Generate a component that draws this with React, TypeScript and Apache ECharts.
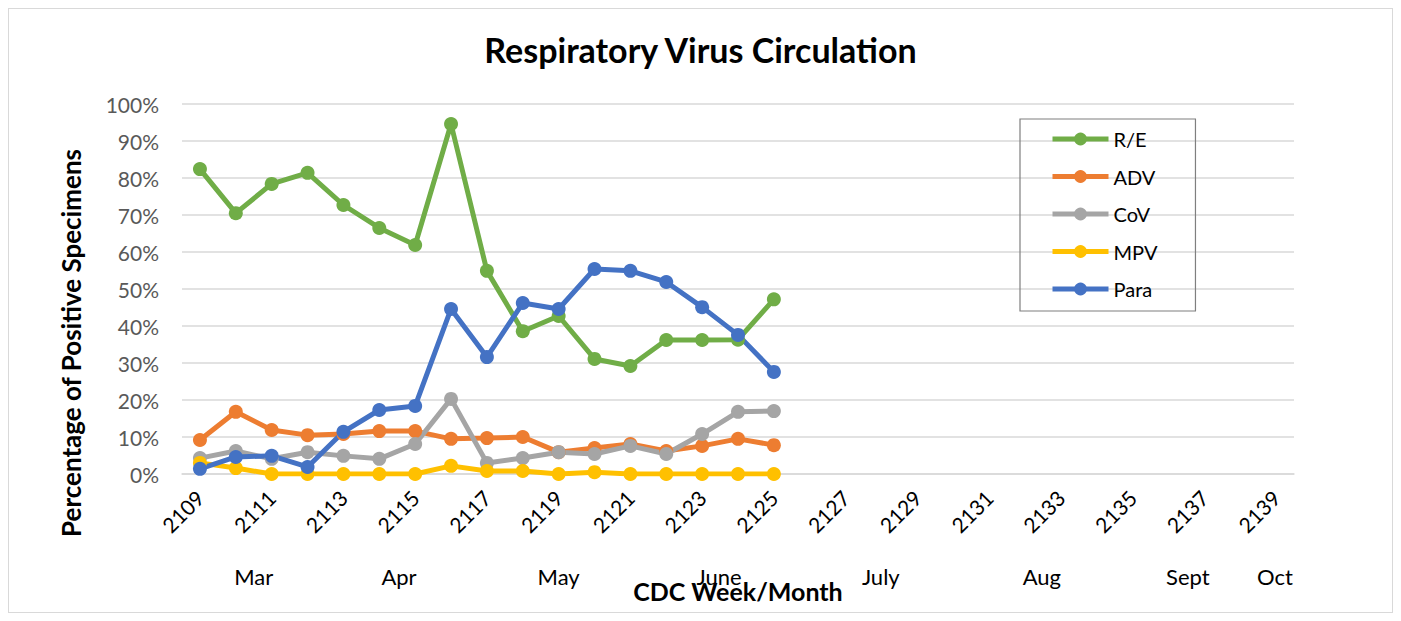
import React, { useEffect, useRef } from "react";
import * as echarts from "echarts";

const weeks: string[] = [];
for (let w = 2109; w <= 2139; w++) weeks.push(String(w));

const reData = [82.4, 70.5, 78.4, 81.4, 72.7, 66.5, 61.9, 94.6, 54.9, 38.6, 42.7, 31.1, 29.2, 36.2, 36.2, 36.3, 47.2];
const advData = [9.2, 16.8, 11.9, 10.5, 10.8, 11.6, 11.6, 9.5, 9.7, 10.0, 5.9, 7.0, 8.1, 6.2, 7.6, 9.5, 7.8];
const covData = [4.3, 6.2, 4.1, 5.9, 4.9, 4.1, 8.1, 20.3, 3.0, 4.3, 5.9, 5.4, 7.6, 5.4, 10.8, 16.8, 17.0];
const mpvData = [3.0, 1.6, 0, 0, 0, 0, 0, 2.2, 0.8, 0.8, 0, 0.5, 0, 0, 0, 0, 0];
const paraData = [1.4, 4.6, 4.9, 1.9, 11.4, 17.3, 18.4, 44.6, 31.6, 46.2, 44.6, 55.4, 54.9, 51.9, 45.1, 37.6, 27.6];

const months = ["Mar", "Apr", "May", "June", "July", "Aug", "Sept", "Oct"];
const monthPos = [1.5, 5.55, 10.0, 14.47, 18.98, 23.47, 27.54, 29.97];

const FONT = "Lato, 'Liberation Sans', sans-serif";

function mkSeries(name: string, data: number[], color: string) {
  return {
    name,
    type: "line",
    data,
    symbol: "circle",
    symbolSize: 14,
    lineStyle: { width: 5, color },
    itemStyle: { color },
  };
}

export default function App() {
  const ref = useRef<HTMLDivElement>(null);
  useEffect(() => {
    if (!ref.current) return;
    const chart = echarts.init(ref.current, undefined, { renderer: "svg" });
    chart.setOption({
      animation: false,
      textStyle: { fontFamily: FONT },
      title: {
        text: "Respiratory Virus Circulation",
        left: "center",
        top: 18,
        textStyle: { fontSize: 34, fontWeight: "bold", color: "#000", fontFamily: FONT },
      },
      grid: { left: 173, width: 1112, top: 95, height: 370 },
      legend: {
        orient: "vertical",
        left: 1011,
        top: 110,
        padding: [10, 38, 12, 30],
        itemGap: 17.5,
        itemWidth: 56,
        itemHeight: 16,
        borderColor: "#7f7f7f",
        borderWidth: 1.2,
        borderRadius: 0,
        lineStyle: { width: 5 },
        textStyle: { fontSize: 20, color: "#000", fontFamily: FONT },
      },
      xAxis: {
        type: "category",
        data: weeks,
        boundaryGap: true,
        name: "CDC Week/Month",
        nameLocation: "middle",
        nameGap: 104,
        nameTextStyle: { fontSize: 25, fontWeight: "bold", color: "#000", fontFamily: FONT },
        axisLine: { show: true, lineStyle: { color: "#d9d9d9", width: 1.5 } },
        axisTick: { show: false },
        axisLabel: {
          interval: 1,
          rotate: 45,
          fontSize: 21,
          color: "#000",
          fontFamily: FONT,
          margin: 20,
        },
      },
      yAxis: {
        type: "value",
        min: 0,
        max: 100,
        interval: 10,
        axisLine: { show: false },
        axisTick: { show: false },
        splitLine: { lineStyle: { color: "#d9d9d9", width: 1.5 } },
        axisLabel: {
          formatter: "{value}%",
          fontSize: 21,
          color: "#595959",
          fontFamily: FONT,
          margin: 23,
        },
      },
      series: [
        mkSeries("R/E", reData, "#70AD47"),
        mkSeries("ADV", advData, "#ED7D31"),
        mkSeries("CoV", covData, "#A5A5A5"),
        mkSeries("MPV", mpvData, "#FFC000"),
        mkSeries("Para", paraData, "#4472C4"),
      ],
    });
    const p0 = chart.convertToPixel({ xAxisIndex: 0 }, 0) as number;
    const p1 = chart.convertToPixel({ xAxisIndex: 0 }, 1) as number;
    const step = p1 - p0;
    const monthTexts = months.map((m, i) => ({
      type: "text",
      x: p0 + monthPos[i] * step,
      y: 567,
      style: {
        text: m,
        fontSize: 22,
        fontFamily: FONT,
        fill: "#000",
        textAlign: "center",
        textVerticalAlign: "middle",
      },
    }));
    chart.setOption({
      graphic: [
        ...monthTexts,
        {
          type: "text",
          x: 62,
          y: 334,
          rotation: Math.PI / 2,
          style: {
            text: "Percentage of Positive Specimens",
            fontSize: 26,
            fontWeight: "bold",
            fontFamily: FONT,
            fill: "#000",
            textAlign: "center",
            textVerticalAlign: "middle",
          },
        },
      ],
    });
    return () => chart.dispose();
  }, []);
  return (
    <div
      ref={ref}
      style={{ width: 1385, height: 605, border: "1px solid #d9d9d9", boxSizing: "border-box" }}
    />
  );
}
